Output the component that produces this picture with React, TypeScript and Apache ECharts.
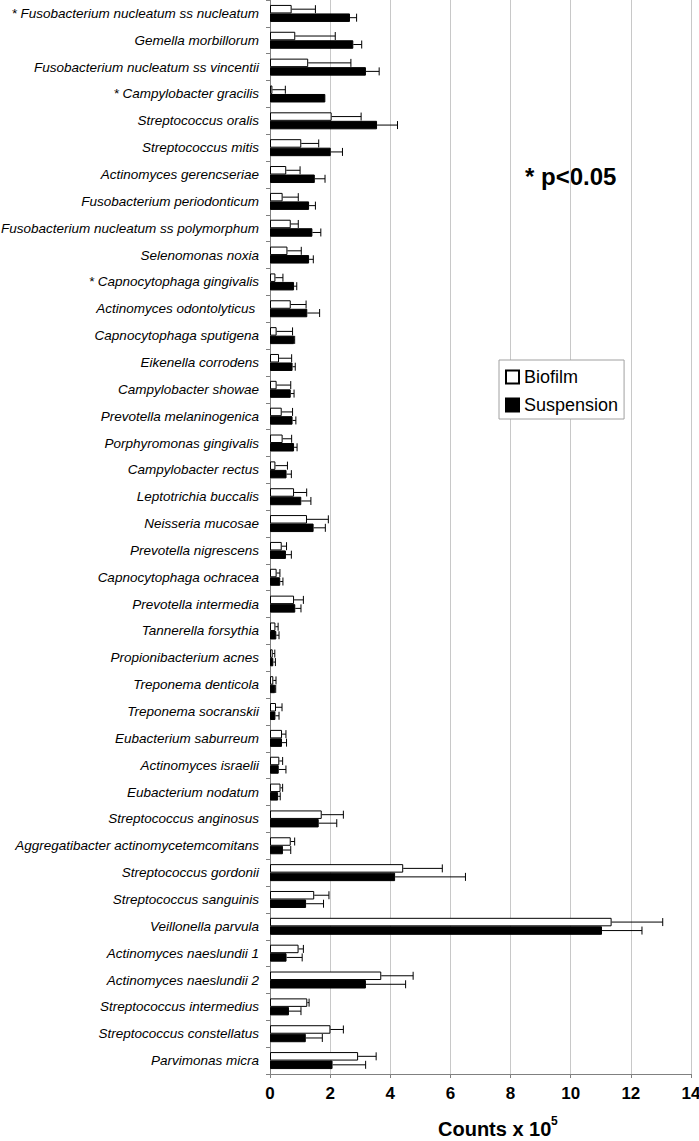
import React, { useEffect, useRef } from "react";
import * as echarts from "echarts";

const categories = [
  "* Fusobacterium nucleatum ss nucleatum",
  "Gemella morbillorum",
  "Fusobacterium nucleatum ss vincentii",
  "* Campylobacter gracilis",
  "Streptococcus oralis",
  "Streptococcus mitis",
  "Actinomyces gerencseriae",
  "Fusobacterium periodonticum",
  "Fusobacterium nucleatum ss polymorphum",
  "Selenomonas noxia",
  "* Capnocytophaga gingivalis",
  "Actinomyces odontolyticus ",
  "Capnocytophaga sputigena",
  "Eikenella corrodens",
  "Campylobacter showae",
  "Prevotella melaninogenica",
  "Porphyromonas gingivalis",
  "Campylobacter rectus",
  "Leptotrichia buccalis",
  "Neisseria mucosae",
  "Prevotella nigrescens",
  "Capnocytophaga ochracea",
  "Prevotella intermedia",
  "Tannerella forsythia",
  "Propionibacterium acnes",
  "Treponema denticola",
  "Treponema socranskii",
  "Eubacterium saburreum",
  "Actinomyces israelii",
  "Eubacterium nodatum",
  "Streptococcus anginosus",
  "Aggregatibacter actinomycetemcomitans",
  "Streptococcus gordonii",
  "Streptococcus sanguinis",
  "Veillonella parvula",
  "Actinomyces naeslundii 1",
  "Actinomyces naeslundii 2",
  "Streptococcus intermedius",
  "Streptococcus constellatus",
  "Parvimonas micra",
];

const biofilm = [
  0.72, 0.84, 1.27, 0.08, 2.05, 1.04, 0.54, 0.42, 0.69, 0.58,
  0.18, 0.69, 0.22, 0.3, 0.22, 0.39, 0.42, 0.18, 0.8, 1.23,
  0.39, 0.22, 0.8, 0.18, 0.09, 0.11, 0.2, 0.4, 0.31, 0.35,
  1.72, 0.69, 4.43, 1.47, 11.36, 0.95, 3.7, 1.24, 2.01, 2.93,
];
const biofilmSd = [
  0.79, 1.33, 1.42, 0.43, 0.98, 0.58, 0.46, 0.52, 0.25, 0.46,
  0.25, 0.51, 0.53, 0.42, 0.47, 0.36, 0.3, 0.4, 0.42, 0.71,
  0.16, 0.11, 0.31, 0.09, 0.07, 0.09, 0.2, 0.13, 0.11, 0.07,
  0.72, 0.13, 1.3, 0.49, 1.7, 0.16, 1.06, 0.06, 0.43, 0.6,
];
const suspension = [
  2.66, 2.77, 3.19, 1.84, 3.56, 2.02, 1.49, 1.3, 1.41, 1.3,
  0.8, 1.24, 0.8, 0.75, 0.69, 0.75, 0.8, 0.55, 1.04, 1.45,
  0.53, 0.34, 0.84, 0.21, 0.11, 0.17, 0.18, 0.4, 0.29, 0.27,
  1.62, 0.43, 4.16, 1.2, 11.04, 0.55, 3.19, 0.63, 1.19, 2.08,
];
const suspensionSd = [
  0.22, 0.28, 0.44, 0, 0.68, 0.39, 0.34, 0.21, 0.28, 0.14,
  0.09, 0.41, 0.02, 0.09, 0.11, 0.11, 0.1, 0.16, 0.32, 0.39,
  0.18, 0.09, 0.19, 0.09, 0.07, 0.02, 0.12, 0.15, 0.24, 0.07,
  0.6, 0.26, 2.34, 0.58, 1.33, 0.52, 1.32, 0.4, 0.55, 1.1,
];

const xTicks = { min: 0, max: 14, interval: 2 };

const BAR_W = 8.5;
const FONT = "'Liberation Sans', Arial, sans-serif";

function errorSeries(name: string, values: number[], sds: number[], offset: number) {
  return {
    type: "custom",
    name: name + " error",
    silent: true,
    z: 5,
    encode: { x: [1, 2], y: 0 },
    data: values.map((v, i) => [i, v, v + sds[i]]),
    renderItem: (params: any, api: any) => {
      const cat = api.value(0);
      const v = api.value(1);
      const e = api.value(2);
      if (e - v <= 0.001) return { type: "group", children: [] };
      const p0 = api.coord([v, cat]);
      const p1 = api.coord([e, cat]);
      const y = p0[1] + offset;
      const h = 4;
      return {
        type: "group",
        children: [
          { type: "line", shape: { x1: p0[0], y1: y, x2: p1[0], y2: y }, style: { stroke: "#000", lineWidth: 1 } },
          { type: "line", shape: { x1: p1[0], y1: y - h, x2: p1[0], y2: y + h }, style: { stroke: "#000", lineWidth: 1 } },
        ],
      };
    },
  };
}

export default function App() {
  const ref = useRef<HTMLDivElement>(null);
  useEffect(() => {
    document.body.style.margin = "0";
    if (!ref.current) return;
    const chart = echarts.init(ref.current, undefined, { renderer: "svg" });
    chart.setOption({
      animation: false,
      backgroundColor: "#fff",
      textStyle: { fontFamily: FONT },
      grid: { left: 270, right: 8, top: 0, bottom: 67, containLabel: false, outerBoundsMode: "none" },
      legend: {
        data: [
          { name: "Biofilm", icon: "rect" },
          { name: "Suspension", icon: "rect" },
        ],
        orient: "vertical",
        left: 499,
        top: 360,
        itemWidth: 13,
        itemHeight: 13,
        itemGap: 10,
        padding: [8, 6, 5, 6],
        backgroundColor: "#fff",
        borderColor: "#a0a0a0",
        borderWidth: 1,
        borderRadius: 0,
        textStyle: { fontFamily: FONT, fontSize: 18, color: "#000" },
      },
      xAxis: {
        type: "value",
        min: xTicks.min,
        max: xTicks.max,
        interval: xTicks.interval,
        axisLine: { show: true, lineStyle: { color: "#808080" } },
        axisTick: { show: true, length: 4, lineStyle: { color: "#808080" } },
        axisLabel: { fontFamily: FONT, fontSize: 17, fontWeight: "bold", color: "#000", margin: 11 },
        splitLine: { show: true, lineStyle: { color: "#c8c8c8" } },
      },
      yAxis: {
        type: "category",
        data: categories,
        inverse: true,
        axisLine: { show: true, lineStyle: { color: "#808080" } },
        axisTick: { show: true, length: 4, interval: 0, lineStyle: { color: "#808080" } },
        axisLabel: {
          interval: 0,
          fontFamily: FONT,
          fontSize: 13.5,
          fontStyle: "italic",
          color: "#000",
          margin: 11,
        },
        splitLine: { show: false },
      },
      graphic: [
        {
          type: "text",
          left: 525,
          top: 164,
          style: { text: "* p<0.05", fontFamily: FONT, fontSize: 24, fontWeight: "bold", fill: "#000" },
        },
        {
          type: "text",
          left: 438,
          top: 1119,
          style: { text: "Counts x 10", fontFamily: FONT, fontSize: 20, fontWeight: "bold", fill: "#000" },
        },
        {
          type: "text",
          left: 551,
          top: 1115,
          style: { text: "5", fontFamily: FONT, fontSize: 12, fontWeight: "bold", fill: "#000" },
        },
      ],
      series: [
        {
          type: "bar",
          name: "Biofilm",
          data: biofilm,
          barWidth: BAR_W,
          barGap: "0%",
          itemStyle: { color: "#fff", borderColor: "#000", borderWidth: 1 },
        },
        {
          type: "bar",
          name: "Suspension",
          data: suspension,
          barWidth: BAR_W,
          barGap: "0%",
          itemStyle: { color: "#000", borderColor: "#000", borderWidth: 1 },
        },
        errorSeries("Biofilm", biofilm, biofilmSd, -BAR_W / 2),
        errorSeries("Suspension", suspension, suspensionSd, BAR_W / 2),
      ],
    });
    return () => chart.dispose();
  }, []);
  return <div ref={ref} style={{ width: 699, height: 1141 }} />;
}
